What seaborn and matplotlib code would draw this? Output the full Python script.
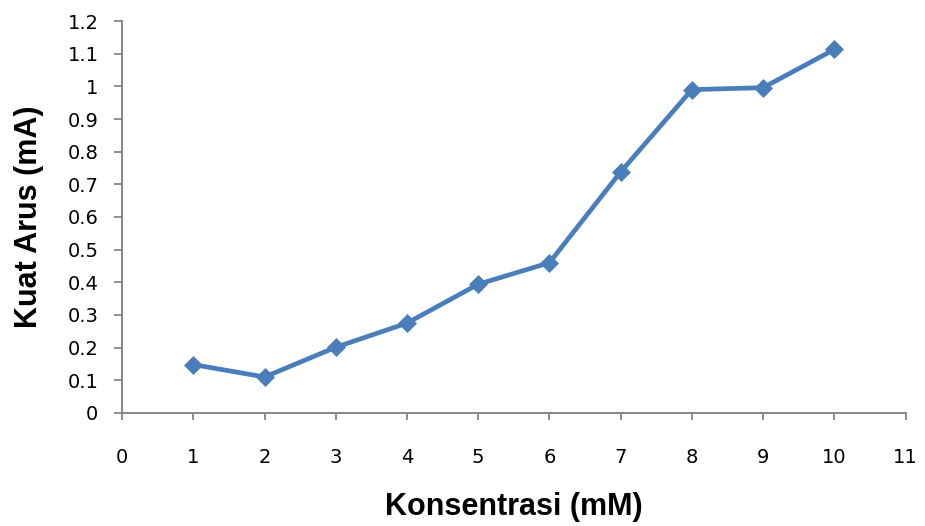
import matplotlib
matplotlib.use("Agg")
import matplotlib.pyplot as plt
import seaborn as sns
import pandas as pd

# Concentration (mM) vs. measured current (mA)
konsentrasi = [1, 2, 3, 4, 5, 6, 7, 8, 9, 10]
kuat_arus = [0.148, 0.11, 0.201, 0.275, 0.394, 0.46, 0.738, 0.99, 0.996, 1.113]
x_ticks = list(range(0, 12))
y_ticks = [0, 0.1, 0.2, 0.3, 0.4, 0.5, 0.6, 0.7, 0.8, 0.9, 1.0, 1.1, 1.2]
y_tick_labels = ["0", "0.1", "0.2", "0.3", "0.4", "0.5", "0.6", "0.7", "0.8",
                 "0.9", "1", "1.1", "1.2"]

df = pd.DataFrame({"Konsentrasi": konsentrasi, "KuatArus": kuat_arus})

sns.set_theme(style="white")
plt.rcParams["font.family"] = ["DejaVu Sans"]

fig = plt.figure(figsize=(9.25, 5.26), dpi=100)
ax = fig.add_axes([0.132, 0.215, 0.847, 0.745])

line_color = "#4a7ebb"
sns.lineplot(data=df, x="Konsentrasi", y="KuatArus", ax=ax,
             color=line_color, linewidth=3.4, marker="D", markersize=9,
             markeredgewidth=0.5, markeredgecolor=line_color)

ax.set_xlim(0, 11)
ax.set_ylim(0, 1.2)
ax.set_xticks(x_ticks)
ax.set_xticklabels([str(t) for t in x_ticks])
ax.set_yticks(y_ticks)
ax.set_yticklabels(y_tick_labels)

spine_color = "#868686"
for side in ("top", "right"):
    ax.spines[side].set_visible(False)
for side in ("left", "bottom"):
    ax.spines[side].set_color(spine_color)
    ax.spines[side].set_linewidth(1.4)

ax.tick_params(axis="x", direction="out", length=5, width=1.3,
               color=spine_color, pad=20, labelsize=14, labelcolor="black")
ax.tick_params(axis="y", direction="out", length=6, width=1.3,
               color=spine_color, pad=11, labelsize=14, labelcolor="black")
ax.xaxis.set_ticks_position("bottom")
ax.yaxis.set_ticks_position("left")

label_font = dict(family=["Liberation Sans", "DejaVu Sans"], weight="bold",
                  size=22, color="black")
ax.set_xlabel("Konsentrasi (mM)", labelpad=18, **label_font)
ax.set_ylabel("Kuat Arus (mA)", labelpad=17, **label_font)
ax.grid(False)

fig.savefig("out.png", dpi=100, facecolor="white")
